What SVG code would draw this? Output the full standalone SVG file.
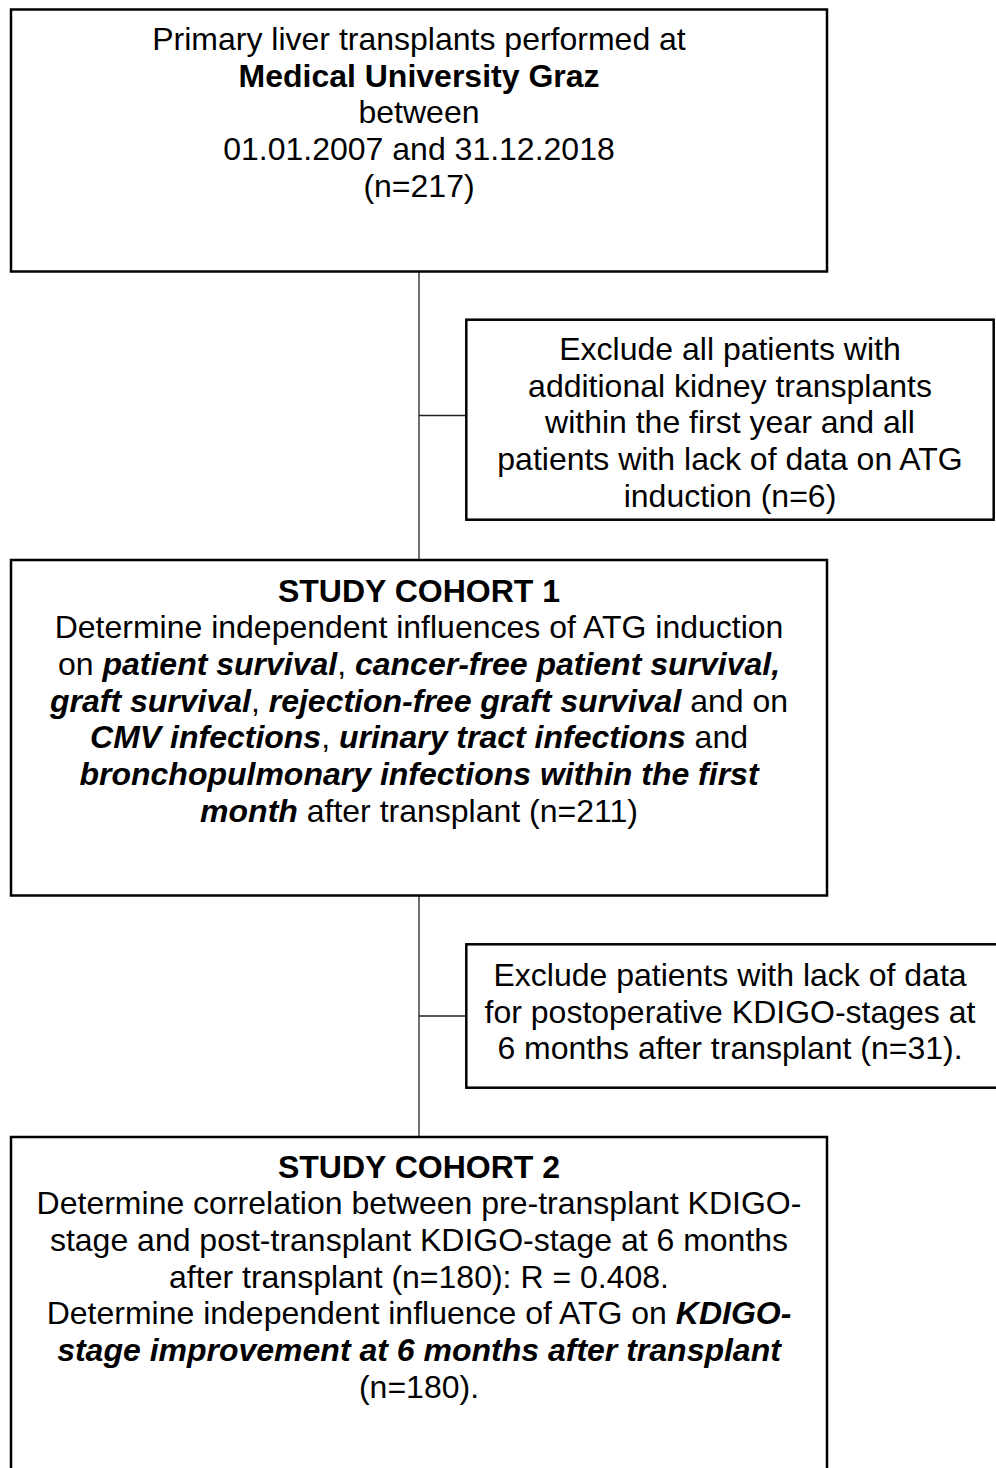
<svg xmlns="http://www.w3.org/2000/svg" width="996" height="1468" viewBox="0 0 996 1468">
<style>
.box{fill:#fff;stroke:#000;stroke-width:2.5}
.conn{fill:none;stroke:#222;stroke-width:1.3}
text{font-family:"Liberation Sans",Arial,sans-serif;font-size:32px;fill:#000;text-anchor:middle}
.b{font-weight:bold}
.bi{font-weight:bold;font-style:italic}
</style>
<rect x="0" y="0" width="996" height="1468" fill="#fff"/>
<g id="connectors">
<line class="conn" x1="419" y1="272" x2="419" y2="560"/>
<line class="conn" x1="419" y1="415.5" x2="466" y2="415.5"/>
<line class="conn" x1="419" y1="896" x2="419" y2="1137"/>
<line class="conn" x1="419" y1="1016" x2="466" y2="1016"/>
</g>
<g id="node-start">
<rect class="box" x="11" y="9.5" width="816" height="262"/>
<text x="419" y="50">Primary liver transplants performed at</text>
<text x="419" y="86.7" class="b">Medical University Graz</text>
<text x="419" y="123.3">between</text>
<text x="419" y="160">01.01.2007 and 31.12.2018</text>
<text x="419" y="196.7">(n=217)</text>
</g>
<g id="node-exclude1">
<rect class="box" x="466.3" y="319.7" width="527.4" height="200"/>
<text x="730" y="360">Exclude all patients with</text>
<text x="730" y="396.7">additional kidney transplants</text>
<text x="730" y="433.3">within the first year and all</text>
<text x="730" y="470">patients with lack of data on ATG</text>
<text x="730" y="506.7">induction (n=6)</text>
</g>
<g id="node-cohort1">
<rect class="box" x="11" y="560" width="816" height="335.5"/>
<text x="419" y="601.7" class="b">STUDY COHORT 1</text>
<text x="419" y="638.3">Determine independent influences of ATG induction</text>
<text x="419" y="675">on <tspan class="bi">patient survival</tspan>, <tspan class="bi">cancer-free patient survival,</tspan></text>
<text x="419" y="711.7"><tspan class="bi">graft survival</tspan>, <tspan class="bi">rejection-free graft survival</tspan> and on</text>
<text x="419" y="748.3"><tspan class="bi">CMV infections</tspan>, <tspan class="bi">urinary tract infections</tspan> and</text>
<text x="419" y="785" class="bi">bronchopulmonary infections within the first</text>
<text x="419" y="821.7"><tspan class="bi">month</tspan> after transplant (n=211)</text>
</g>
<g id="node-exclude2">
<rect class="box" x="466.3" y="944.3" width="540" height="143.4"/>
<text x="730" y="986">Exclude patients with lack of data</text>
<text x="730" y="1022.7">for postoperative KDIGO-stages at</text>
<text x="730" y="1059.3">6 months after transplant (n=31).</text>
</g>
<g id="node-cohort2">
<rect class="box" x="11" y="1137" width="816" height="345"/>
<text x="419" y="1177.7" class="b">STUDY COHORT 2</text>
<text x="419" y="1214.3">Determine correlation between pre-transplant KDIGO-</text>
<text x="419" y="1251">stage and post-transplant KDIGO-stage at 6 months</text>
<text x="419" y="1287.7">after transplant (n=180): R = 0.408.</text>
<text x="419" y="1324.3">Determine independent influence of ATG on <tspan class="bi">KDIGO-</tspan></text>
<text x="419" y="1361" class="bi">stage improvement at 6 months after transplant</text>
<text x="419" y="1397.7">(n=180).</text>
</g>
</svg>
